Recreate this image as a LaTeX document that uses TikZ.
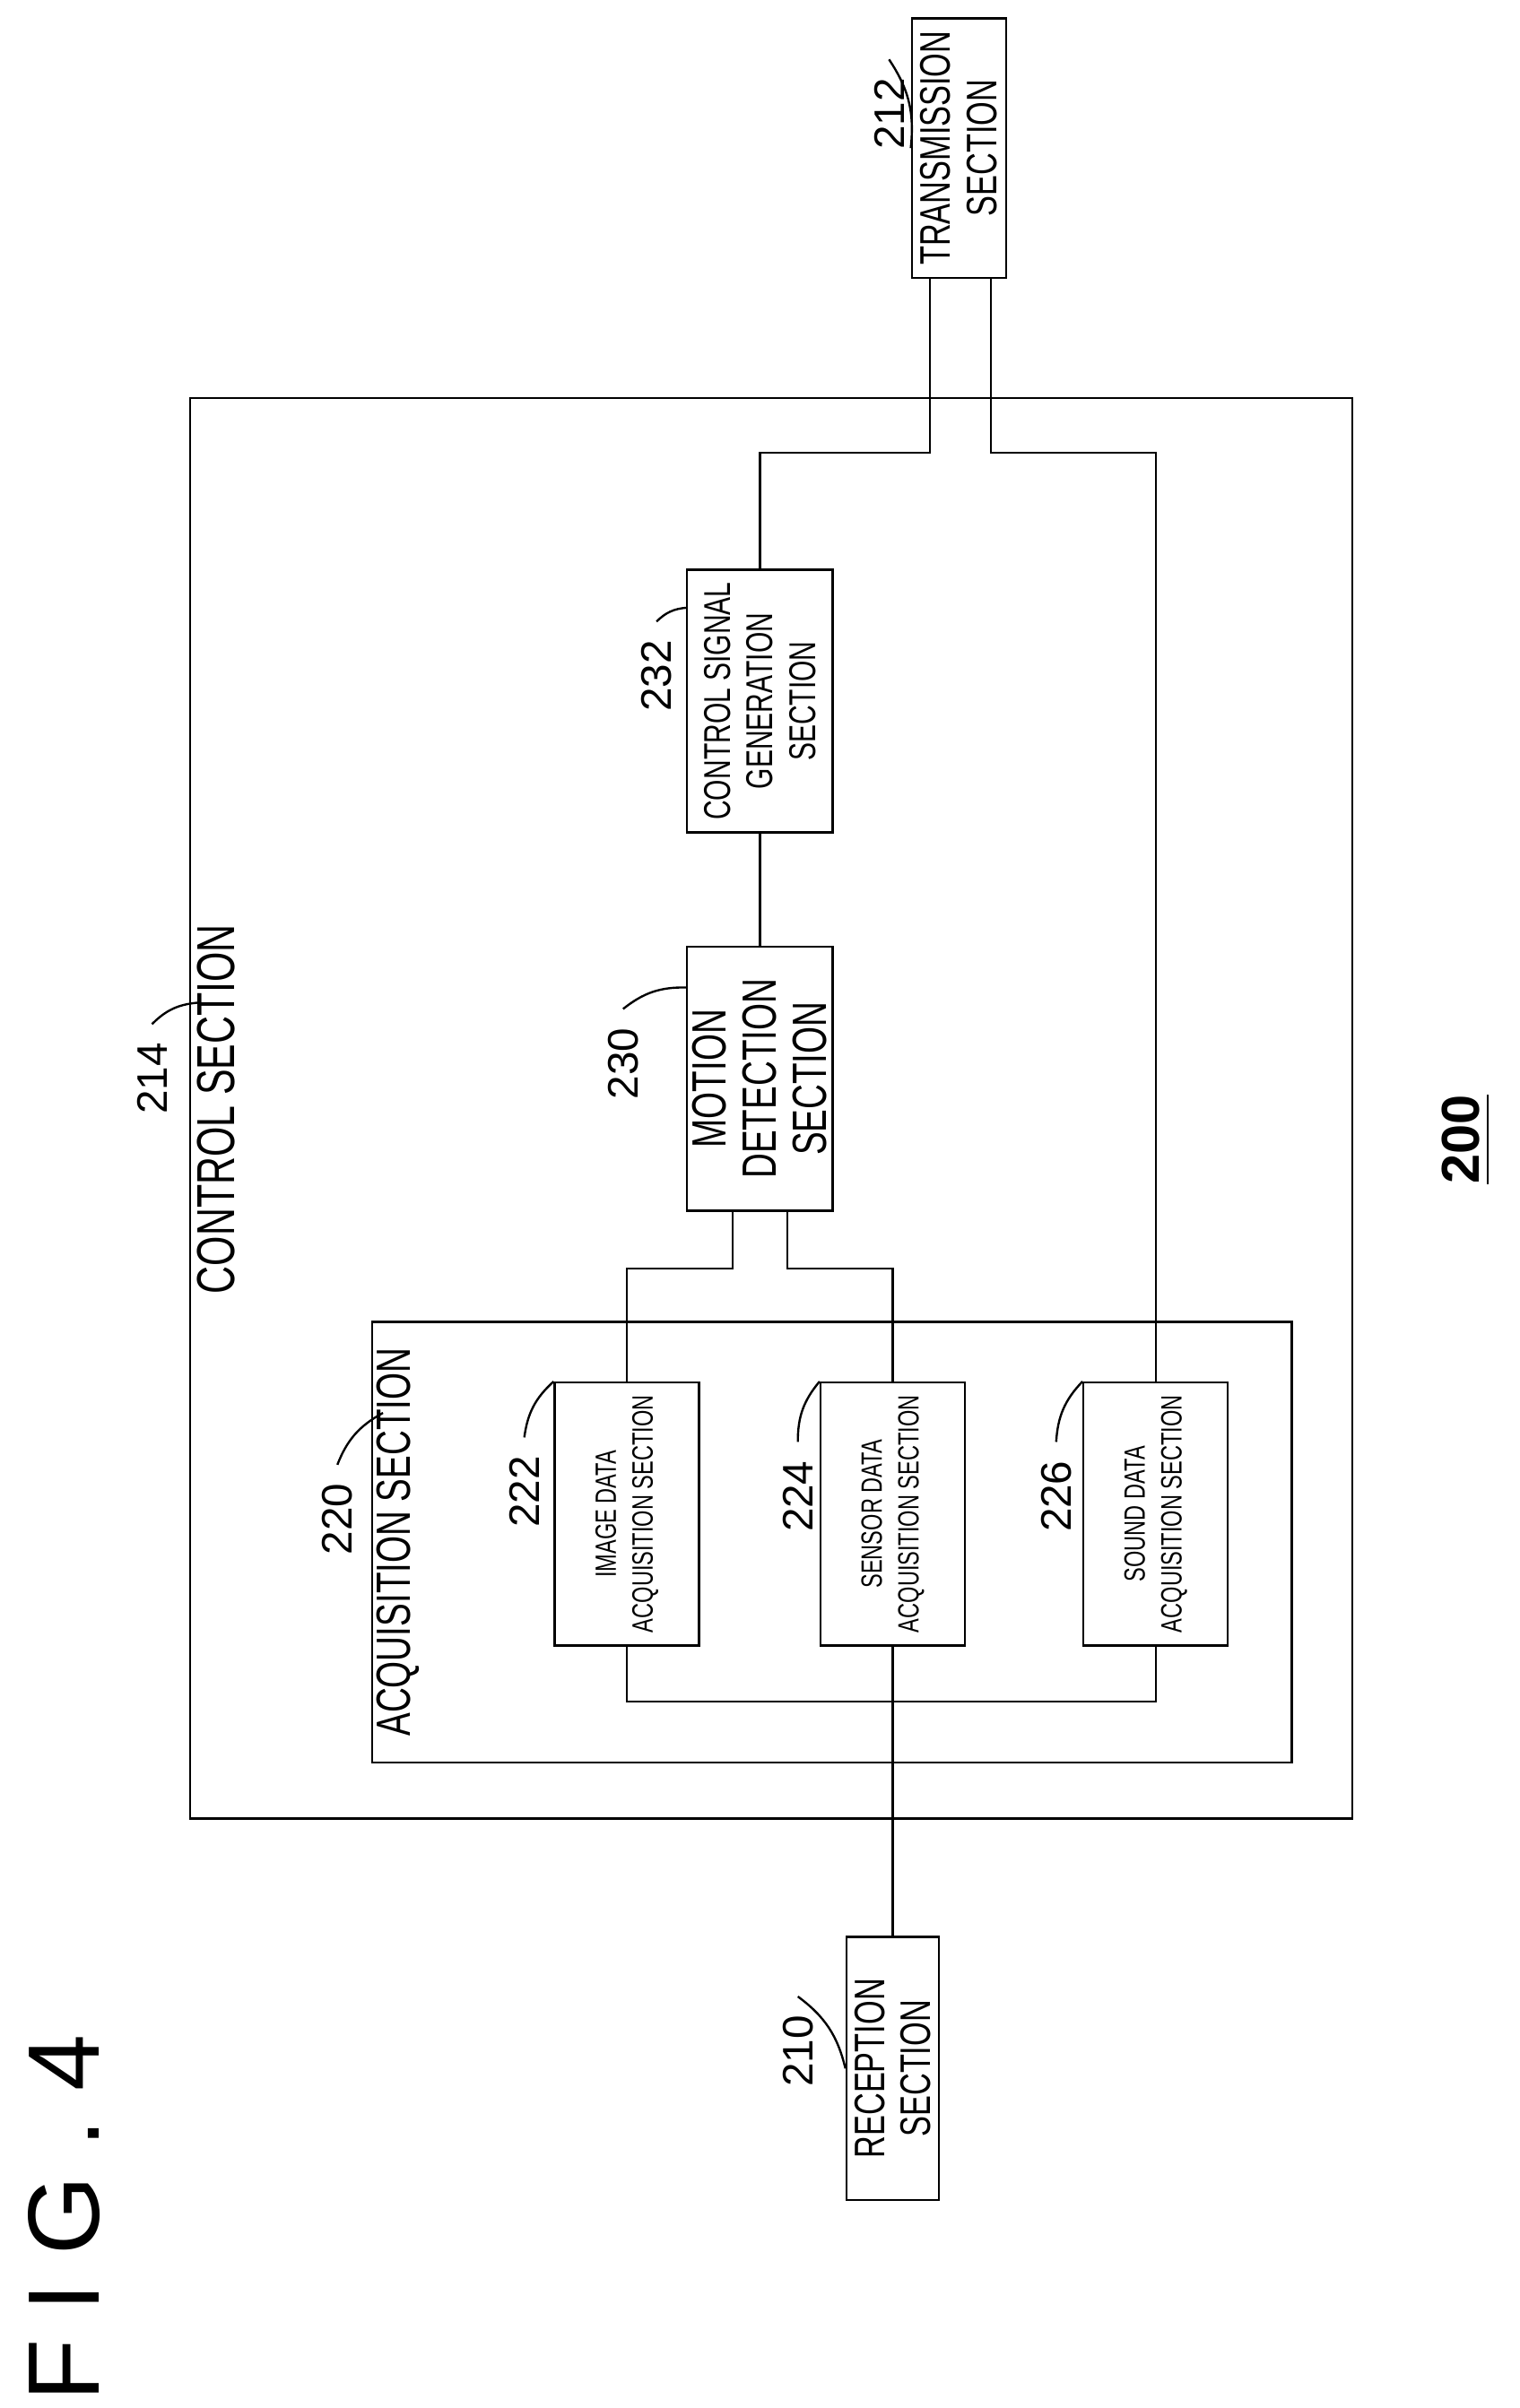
\documentclass[tikz,border=0pt]{standalone}
\usepackage{fontspec}
\setmainfont{Liberation Sans}
\usetikzlibrary{positioning}
\newcommand\cond[1]{\rotatebox{90}{\scalebox{.72}[1]{#1}}}
\begin{document}
\begin{tikzpicture}[box/.style={draw,inner sep=0pt,align=center},
  small/.style={font=\fontsize{5.5}{6}\selectfont},
  num/.style={font=\fontsize{8}{9}\selectfont,rotate=90},
  lead/.style={thin}]
  \useasboundingbox (0,0) rectangle (10,-15.85);
  % outer blocks
  \node[box,minimum width=7.65cm,minimum height=9.35cm] (ctl) at (5.075,-7.295) {};
  \node[box,minimum width=6.05cm,minimum height=2.9cm] (acq) at (5.475,-10.15) {};
  % acquisition blocks
  \node[box,small,minimum width=.95cm,minimum height=1.73cm] (img) at (4.125,-9.965) {\cond{\shortstack{IMAGE DATA\\ACQUISITION SECTION}}};
  \node[box,small,minimum width=.95cm,minimum height=1.73cm] (sensor) at (5.875,-9.965) {\cond{\shortstack{SENSOR DATA\\ACQUISITION SECTION}}};
  \node[box,small,minimum width=.95cm,minimum height=1.73cm] (sound) at (7.605,-9.965) {\cond{\shortstack{SOUND DATA\\ACQUISITION SECTION}}};
  \node[box,font=\fontsize{9}{10}\selectfont,minimum width=.96cm,minimum height=1.74cm] (motion) at (5.0,-7.1) {\cond{\shortstack{MOTION\\DETECTION\\SECTION}}};
  \node[box,font=\fontsize{7}{8}\selectfont,minimum width=.96cm,minimum height=1.73cm] (ctlsig) at (5.0,-4.615) {\cond{\shortstack{CONTROL SIGNAL\\GENERATION\\SECTION}}};
  \node[box,font=\fontsize{8}{9}\selectfont,minimum width=.61cm,minimum height=1.73cm] (rec) at (5.875,-13.615) {\cond{\shortstack{RECEPTION\\SECTION}}};
  \node[box,font=\fontsize{8}{9}\selectfont,minimum width=.62cm,minimum height=1.71cm] (trans) at (6.31,-0.975) {\cond{\shortstack{TRANSMISSION\\SECTION}}};
  % connectors
  \draw (rec.north) -- (sensor.south);
  \draw (img.south) |- (sound.south |- 0,-11.2) -- (sound.south);
  \draw (img.north) |- ([xshift=-.18cm]motion.south |- 0,-8.35) -- ([xshift=-.18cm]motion.south);
  \draw (sensor.north) |- ([xshift=.18cm]motion.south |- 0,-8.35) -- ([xshift=.18cm]motion.south);
  \draw (motion.north) -- (ctlsig.south);
  \draw (ctlsig.north) |- ([xshift=-.19cm]trans.south |- 0,-2.98) -- ([xshift=-.19cm]trans.south);
  \draw (sound.north) |- ([xshift=.21cm]trans.south |- 0,-2.98) -- ([xshift=.21cm]trans.south);
  % labels
  \node[font=\fontsize{10}{11}\selectfont] (ctltxt) at (1.42,-7.3) {\cond{CONTROL SECTION}};
  \node[font=\fontsize{9}{10}\selectfont] (acqtxt) at (2.62,-10.15) {\cond{ACQUISITION SECTION}};
  \node[num] (n214) at (1.0,-7.1) {214};
  \node[num] (n220) at (2.22,-10.0) {220};
  \node[num] (n222) at (3.45,-9.82) {222};
  \node[num] (n224) at (5.25,-9.85) {224};
  \node[num] (n226) at (6.95,-9.85) {226};
  \node[num] (n230) at (4.1,-7.0) {230};
  \node[num] (n232) at (4.32,-4.45) {232};
  \node[num] (n210) at (5.25,-13.5) {210};
  \node[num] (n212) at (5.85,-0.75) {212};
  \draw[lead] (n214.east) to[bend left=20] (1.3,-6.6);
  \draw[lead] (n220.east) to[bend left=20] (2.52,-9.3);
  \draw[lead] (n222.east) to[bend left=20] (img.north west);
  \draw[lead] (n224.east) to[bend left=20] (sensor.north west);
  \draw[lead] (n226.east) to[bend left=20] (sound.north west);
  \draw[lead] (n230.east) to[bend left=20] (4.52,-6.5);
  \draw[lead] (n232.east) to[bend left=20] (4.52,-4.0);
  \draw[lead] (n210.east) to[bend left=20] (rec.west);
  \draw[lead] (n212.east) to[bend left=20] (trans.west);
  \node[num,font=\fontsize{10}{11}\selectfont\bfseries] (n200) at (9.65,-7.5) {\underline{200}};
  \node[num,font=\fontsize{19}{21}\selectfont] (fig) at (0.42,-14.6) {F I G . 4};
\end{tikzpicture}
\end{document}
